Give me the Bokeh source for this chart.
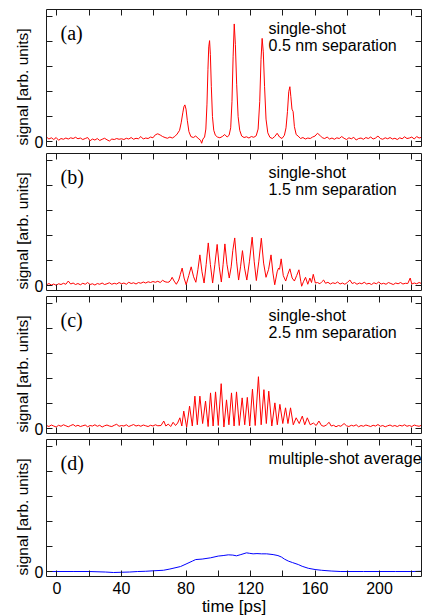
from bokeh.plotting import figure
from bokeh.models import Range1d, LinearAxis, FixedTicker, Label, Title
from bokeh.layouts import column
from bokeh.embed import file_html
from bokeh.resources import INLINE

# ---------------- data ----------------
x_major = [0, 40, 80, 120, 160, 200]
x_minor = [20, 60, 100, 140, 180, 220]
y_major = [0]
y_minor = [1, 2, 3, 4, 5]

y_title = "signal [arb. units]"
x_title = "time [ps]"
panel_letters = ["(a)", "(b)", "(c)", "(d)"]
panel_notes = [["single-shot", "0.5 nm separation"],
               ["single-shot", "1.5 nm separation"],
               ["single-shot", "2.5 nm separation"],
               ["multiple-shot average"]]

t_a = [-6.5, -5, -3.5, -2, -0.5, 1, 2.5, 4, 5.5, 7, 8.5, 10, 11.5, 13, 14.5, 16, 17.5, 19, 20.5, 22,
       23.5, 25, 26.5, 28, 29.5, 31, 32.5, 34, 35.5, 37, 38.5, 40, 41.5, 43, 44.5, 46, 47.5, 49, 50.5, 52,
       53.5, 55, 56.5, 58, 59.5, 61, 62.5, 64, 65.5, 67, 68.5, 70, 71.5, 73, 74.5,
       76, 77, 78, 78.7, 79.3, 80, 80.8, 81.8, 83, 84.5, 86, 87.5, 89, 89.7, 90.5, 91.5, 92.3, 93, 93.6,
       94.1, 94.6, 95.1, 95.7, 96.4, 97.2, 98.2, 99.5, 101, 102.5, 104, 105.5, 106.7, 107.7, 108.5, 109.2,
       109.9, 110.6, 111.4, 112.3, 113.3, 114.5, 116, 117.5, 119, 120.5, 122, 123.5, 124.7, 125.7, 126.5,
       127.2, 127.9, 128.7, 129.6, 130.7, 132, 133.5, 135, 136.5, 138, 139.5, 141, 142, 142.9, 143.7,
       144.4, 145, 145.7, 146.4, 147.2, 148.3, 149.5, 151,
       152.5, 154, 155.5, 157, 158.5, 160, 161.5, 163, 164.5, 166, 167.5, 169, 170.5, 172, 173.5, 175,
       176.5, 178, 179.5, 181, 182.5, 184, 185.5, 187, 188.5, 190, 191.5, 193, 194.5, 196, 197.5, 199,
       200.5, 202, 203.5, 205, 206.5, 208, 209.5, 211, 212.5, 214, 215.5, 217, 218.5, 220, 221.5, 223,
       224.5, 226]
s_a = [0.18, 0.10, 0.15, 0.08, 0.16, 0.05, 0.12, 0.09, 0.14, 0.10, 0.15, 0.12, 0.17, 0.11, 0.14, 0.08,
       0.12, 0.16, 0.03, 0.10, 0.06, 0.12, 0.04, 0.09, 0.13, 0.07, 0.02, 0.10, 0.08, 0.12, 0.09, 0.11,
       0.08, 0.13, 0.10, 0.16, 0.09, 0.13, 0.11, 0.20, 0.10, 0.14, 0.12, 0.18, 0.15, 0.27, 0.31, 0.26,
       0.20, 0.16, 0.13, 0.18, 0.14, 0.20, 0.30,
       0.45, 0.75, 1.15, 1.40, 1.47, 1.30, 0.85, 0.40, 0.20, 0.16, 0.22, 0.13, 0.05, -0.07, 0.10, 0.18,
       0.50, 1.50, 2.90, 3.80, 4.05, 3.50, 2.20, 1.00, 0.45, 0.25, 0.18, 0.15, 0.20, 0.28, 0.18, 0.25,
       0.55, 1.60, 3.40, 4.72, 3.90, 2.30, 1.00, 0.45, 0.22, 0.16, 0.19, 0.14, 0.20, 0.17, 0.23, 0.50,
       1.60, 3.30, 4.14, 3.60, 2.20, 0.90, 0.35, 0.17, 0.12, 0.20, 0.33, 0.18, 0.12, 0.25, 0.55, 1.20,
       2.00, 2.20, 1.80, 1.30, 1.20, 0.60, 0.28, 0.22, 0.12,
       0.16, 0.10, 0.14, 0.12, 0.18, 0.22, 0.33, 0.25, 0.15, 0.12, 0.18, 0.10, 0.14, 0.09, 0.15, 0.12,
       0.20, 0.13, 0.08, 0.15, 0.11, 0.17, 0.06, 0.12, 0.14, 0.09, 0.16, 0.12, 0.18, 0.10, 0.14, 0.22,
       0.12, 0.09, 0.15, 0.11, 0.16, 0.10, 0.13, 0.08, 0.15, 0.11, 0.19, 0.12, 0.14, 0.18, 0.10, 0.20,
       0.14, 0.17]

t_b = [-6.5, -5, -3.5, -2, -0.5, 1, 2.5, 4, 5.5, 7, 8.5, 10, 11.5, 13, 14.5, 16, 17.5, 19, 20.5, 22,
       23.5, 25, 26.5, 28, 29.5, 31, 32.5, 34, 35.5, 37, 38.5, 40, 41.5, 43, 44.5, 46, 47.5, 49, 50.5, 52,
       53.5, 55, 56.5, 58, 59.5, 61, 62.5, 64, 65.5, 67, 68.5,
       69.5, 70.5, 71.4, 72.6, 74.0, 75.5, 76.5, 77.6, 78.8, 80.1, 81.7, 83.2, 84.7, 86.1, 87.4, 88.6,
       89.9, 91.2, 92.5, 93.8, 95.1, 96.5, 97.9, 99.3, 100.6, 101.9, 103.0, 104.1, 105.4, 106.8, 108.0,
       109.0, 110.2, 111.4, 112.6, 113.8, 115.0, 116.3, 117.7, 119.3, 121.0, 122.3, 123.6, 125.1, 126.7,
       128.1, 129.6, 131.2, 132.7, 133.9, 135.0, 136.5, 137.4, 138.0, 139.0, 140.3, 141.8, 143.1, 144.4,
       145.8, 147.2, 148.6, 150.0, 151.2, 151.7, 152.8, 154.1, 155.5, 156.8, 157.8, 158.9, 160.2,
       161.5, 163, 164.2, 165.3, 166.5, 168, 169.5, 171, 172.5, 174, 175.5, 177, 178.5, 180, 181.6, 183,
       184.5, 186, 187.5, 189, 190.5, 192, 193.5, 195, 196.5, 198, 199.5, 201, 202.5, 204, 205.5, 207,
       208.5, 210, 211.5, 213, 214.5, 216, 217.5, 219, 220, 221.5, 223, 224.5, 226]
s_b = [0.03, 0.08, 0.02, 0.06, 0.01, 0.07, 0.04, 0.09, 0.05, 0.18, 0.06, 0.10, 0.04, 0.08, 0.03, 0.09,
       0.05, 0.12, 0.04, 0.07, 0.02, 0.08, 0.05, 0.10, 0.04, 0.07, 0.11, 0.05, 0.09, 0.06, 0.12, 0.07,
       0.10, 0.05, 0.13, 0.08, 0.11, 0.06, 0.12, 0.09, 0.14, 0.10, 0.15, 0.12, 0.16, 0.13, 0.17, 0.12,
       0.21, 0.15, 0.13,
       0.14, 0.22, 0.33, 0.18, 0.05, 0.22, 0.45, 0.70, 0.30, 0.03, 0.40, 0.75, 0.35, 0.13, 0.65, 1.23,
       0.55, 0.10, 0.85, 1.71, 0.85, 0.10, 0.85, 1.65, 0.75, 0.14, 0.85, 1.67, 0.85, 0.30, 0.75,
       1.40, 1.91, 0.95, 0.22, 0.75, 1.40, 0.70, 0.22, 0.95, 1.94, 0.95, 0.20, 0.95, 1.90,
       0.90, 0.33, 0.65, 1.23, 0.50, 0.03, 0.55, 0.70, 0.65, 1.07, 0.40, 0.18, 0.45, 0.67,
       0.30, 0.18, 0.40, 0.63, 0.15, -0.03, 0.15, 0.33, 0.05, 0.30, 0.12, 0.45, 0.10,
       0.12, 0.07, 0.15, 0.22, 0.09, 0.13, 0.06, 0.11, 0.08, 0.14, 0.06, 0.10, 0.05, 0.12, 0.22, 0.08,
       0.12, 0.05, 0.10, 0.07, 0.13, 0.06, 0.09, 0.04, 0.11, 0.07, 0.14, 0.06, 0.09, 0.05, 0.12, 0.08,
       0.04, 0.10, 0.07, 0.12, 0.06, 0.09, 0.08, 0.30, 0.06, 0.10, 0.07, 0.12, 0.08]

t_c = [-6.5, -5, -3.5, -2, -0.5, 1, 2.5, 4, 5.5, 7, 8.5, 10, 11.5, 13, 14.5, 16, 17.5, 19, 20.5, 22,
       23.5, 25, 26.5, 28, 29.5, 31, 32.5, 34, 35.5, 37, 38.5, 40, 41.5, 43, 44.5, 46, 47.5, 49, 50.5, 52,
       53.5, 55, 56.5, 58, 59.5, 61, 62.5,
       64.5, 66.2, 67.5, 69.0, 70.5, 72.0, 73.5, 74.8, 76.2, 77.4, 78.6, 80.4, 82.2, 83.9, 85.5, 87.0,
       88.6, 90.3, 92.1, 93.7, 95.2, 96.8, 98.3, 100.0, 101.8, 103.5, 105.1, 106.6, 108.2, 109.8, 111.3,
       113.0, 114.8, 116.4, 118.0, 119.5, 121.2, 122.9, 124.9, 126.6, 128.3, 129.8, 131.3, 133.2, 135.1,
       136.6, 138.2, 140.0, 141.7, 143.2, 144.8, 146.5, 148.3, 150.2, 152.1, 153.6, 155.2, 157.0, 159.0,
       160.7, 162.4, 164.0,
       165.5, 167, 168.7, 170, 171.5, 173, 174.5, 176, 178, 179.5, 181, 182.5, 184, 185.5, 187, 188.5,
       190, 191.5, 193, 194.5, 196, 197.5, 199, 200.5, 202, 203.5, 205, 206.5, 208, 209.5, 211, 212.5,
       214, 215.5, 217, 218.5, 220, 221.5, 223, 224.5, 226]
s_c = [0.12, 0.08, 0.14, 0.10, 0.06, 0.13, 0.09, 0.15, 0.11, 0.07, 0.12, 0.16, 0.09, 0.13, 0.08, 0.11,
       0.14, 0.07, 0.12, 0.10, 0.15, 0.09, 0.13, 0.06, 0.11, 0.14, 0.10, 0.08, 0.13, 0.17, 0.09, 0.12,
       0.10, 0.15, 0.08, 0.12, 0.16, 0.10, 0.13, 0.09, 0.14, 0.11, 0.08, 0.13, 0.10, 0.15, 0.11,
       0.12, 0.30, 0.10, 0.18, 0.08, 0.25, 0.12, 0.22, 0.43, 0.10, 0.70, 0.05, 0.90, 0.10, 1.30, 0.15,
       1.30, 0.20, 1.10, 0.08, 1.43, 0.10, 1.47, 0.12, 1.80, 0.06, 1.15, 0.15, 1.43, 0.10, 1.47,
       0.12, 1.23, 0.15, 1.25, 0.10, 1.58, 0.12, 2.08, 0.15, 1.56, 0.20, 1.50, 0.10, 1.03,
       0.15, 0.97, 0.20, 0.83, 0.20, 0.83, 0.15, 0.43, 0.20, 0.50, 0.15, 0.43, 0.15, 0.22,
       0.12, 0.30, 0.12,
       0.09, 0.14, 0.25, 0.10, 0.13, 0.07, 0.12, 0.09, 0.20, 0.11, 0.08, 0.13, 0.10, 0.15, 0.07, 0.12,
       0.09, 0.14, 0.11, 0.08, 0.13, 0.10, 0.16, 0.09, 0.12, 0.07, 0.11, 0.14, 0.09, 0.12, 0.08, 0.13,
       0.10, 0.15, 0.09, 0.12, 0.08, 0.14, 0.11, 0.09, 0.13]

t_d = [-6.5, 0, 10, 20, 30, 35, 40, 45, 50, 55, 60, 66, 70, 76.6, 80, 84, 86, 90, 95.2, 100, 103, 106.2,
       109, 111.3, 114, 117.5, 119.5, 121.6, 124, 126.8, 130, 134, 137, 139.2, 141, 143.4, 146, 149.6,
       152, 155.8, 160, 164, 170, 176, 190, 200, 210, 220, 226]
s_d = [0.0, 0.0, 0.0, 0.0, -0.02, -0.04, -0.03, -0.02, 0.0, 0.01, 0.03, 0.05, 0.10, 0.20, 0.30, 0.42,
       0.48, 0.50, 0.55, 0.62, 0.64, 0.67, 0.66, 0.63, 0.68, 0.75, 0.73, 0.71, 0.72, 0.71, 0.71, 0.68,
       0.64, 0.58, 0.50, 0.42, 0.36, 0.28, 0.21, 0.13, 0.08, 0.05, 0.02, 0.0, 0.0, 0.0, 0.0, 0.0, 0.01]

series_t = [t_a, t_b, t_c, t_d]
series_s = [s_a, s_b, s_c, s_d]
series_color = ["#ff0000", "#ff0000", "#ff0000", "#0000ff"]

# ---------------- layout ----------------
AX = "#1a1a1a"
SANS = "Liberation Sans"
SERIF = "Liberation Serif"

x_range = Range1d(-6.5, 226)
borders = [(9, 6), (1, 5), (1, 4), (2, 39)]


def style_axis(ax):
    ax.axis_line_color = AX
    ax.axis_line_width = 1
    ax.major_tick_in = 6
    ax.major_tick_out = 0
    ax.minor_tick_in = 6
    ax.minor_tick_out = 0
    ax.major_tick_line_color = AX
    ax.minor_tick_line_color = AX


def bare_axis(ax):
    # ticks only, no labels
    style_axis(ax)
    ax.major_label_standoff = 0
    ax.axis_label = None
    ax.axis_label_standoff = 0


figs = []
for i in range(4):
    top, bottom = borders[i]
    p = figure(frame_width=375, frame_height=137, x_range=x_range, y_range=Range1d(-0.2, 5.3),
               output_backend="svg", toolbar_location=None,
               min_border_left=46, min_border_right=1, min_border_top=top, min_border_bottom=bottom)
    p.grid.visible = False
    p.outline_line_color = None
    p.background_fill_color = "white"
    p.border_fill_color = "white"

    xb = p.xaxis[0]
    if i == 3:
        xb.ticker = FixedTicker(ticks=x_major, minor_ticks=x_minor)
        style_axis(xb)
        xb.axis_label = x_title
        xb.axis_label_text_font = SANS
        xb.axis_label_text_font_size = "17px"
        xb.axis_label_text_font_style = "normal"
        xb.axis_label_standoff = 0
        xb.major_label_text_font = SANS
        xb.major_label_text_font_size = "16px"
        xb.major_label_standoff = 5
        xb.major_label_text_color = "black"
        xb.axis_label_text_color = "black"
    else:
        xb.ticker = FixedTicker(ticks=[], minor_ticks=x_major + x_minor)
        bare_axis(xb)

    yl = p.yaxis[0]
    yl.ticker = FixedTicker(ticks=y_major, minor_ticks=y_minor)
    style_axis(yl)
    yl.axis_label = None
    yl.major_label_text_font = SANS
    yl.major_label_text_font_size = "16px"
    yl.major_label_text_color = "black"
    yl.major_label_standoff = 3

    xa = LinearAxis(ticker=FixedTicker(ticks=[], minor_ticks=x_major + x_minor))
    bare_axis(xa)
    p.add_layout(xa, "above")
    yr = LinearAxis(ticker=FixedTicker(ticks=[], minor_ticks=y_major + y_minor))
    bare_axis(yr)
    p.add_layout(yr, "right")

    # rotated y title in the left margin, starting at the frame bottom as in the original
    ttl = Title(text=y_title, align="left", offset=1, standoff=2,
                text_font=SANS, text_font_size="15.5px", text_font_style="normal",
                text_color="black")
    p.add_layout(ttl, "left")

    p.line(series_t[i], series_s[i], line_color=series_color[i], line_width=1)

    p.add_layout(Label(x=2.2, y=4.34, text=panel_letters[i], text_font=SERIF,
                       text_font_size="20px", text_baseline="middle", text_align="left",
                       text_color="black"))
    note_y = [4.52, 3.84]
    for j, note in enumerate(panel_notes[i]):
        p.add_layout(Label(x=131.2, y=note_y[j], text=note, text_font=SANS,
                           text_font_size="16px", text_baseline="middle", text_align="left",
                           text_color="black"))
    figs.append(p)

layout = column(*figs, spacing=0)
open("out.html", "w").write(file_html(layout, INLINE))
